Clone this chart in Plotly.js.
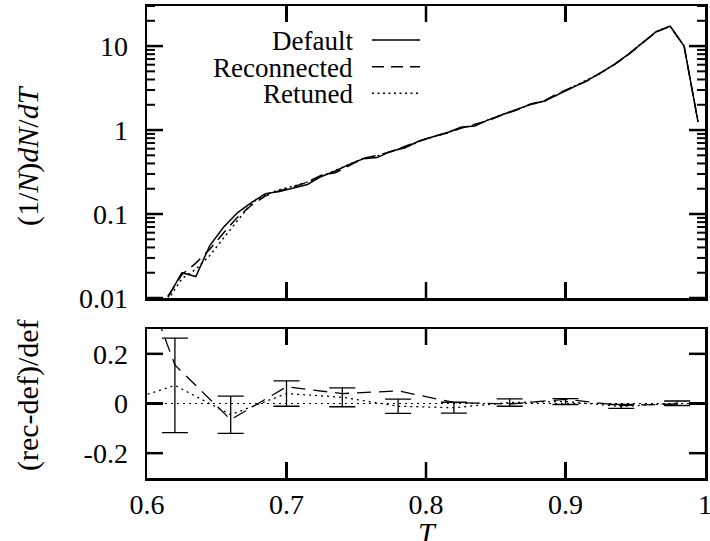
<!DOCTYPE html>
<html><head><meta charset="utf-8">
<script src="https://cdn.plot.ly/plotly-3.0.1.min.js"></script>
<style>html,body{margin:0;padding:0;background:#fff}#chart{width:710px;height:541px}</style>
</head><body><div id="chart"></div>
<script>
// ---- data ----
const T_top = [0.615,0.625,0.635,0.645,0.655,0.665,0.675,0.685,0.695,0.705,
               0.715,0.725,0.735,0.745,0.755,0.765,0.775,0.785,0.795,0.805,
               0.815,0.825,0.835,0.845,0.855,0.865,0.875,0.885,0.895,0.905,
               0.915,0.925,0.935,0.945,0.955,0.965,0.975,0.985,0.995];
const defaultVals = [0.0102,0.020,0.018,0.042,0.070,0.104,0.138,0.175,0.186,0.205,
                     0.225,0.280,0.325,0.39,0.455,0.47,0.56,0.615,0.74,0.83,
                     0.93,1.08,1.12,1.33,1.53,1.76,2.02,2.22,2.65,3.2,
                     3.85,4.75,6.05,7.95,10.9,14.8,17.3,10.0,1.25];
const reconnectedVals = [0.0105,0.019,0.026,0.038,0.060,0.092,0.128,0.165,0.19,0.21,
                         0.24,0.29,0.31,0.38,0.46,0.50,0.55,0.64,0.73,0.84,
                         0.92,1.05,1.17,1.30,1.52,1.73,2.05,2.24,2.75,3.2,
                         3.8,4.8,6.0,7.9,10.9,14.7,17.2,10.0,1.25];
const retunedVals = [0.0095,0.017,0.022,0.032,0.052,0.085,0.135,0.17,0.195,0.215,
                     0.24,0.28,0.33,0.39,0.46,0.49,0.56,0.62,0.73,0.83,
                     0.92,1.07,1.14,1.33,1.53,1.76,2.02,2.22,2.68,3.2,
                     3.85,4.75,6.05,7.95,10.9,14.8,17.3,10.0,1.25];

const T_ratio = [0.58,0.62,0.66,0.70,0.74,0.78,0.82,0.86,0.90,0.94,0.98];
const reconnectedRatio = [0.76,0.155,-0.065,0.067,0.040,0.051,0.004,-0.002,0.017,-0.008,-0.002];
const retunedRatio = [0.0,0.073,-0.045,0.040,0.025,-0.011,-0.017,0.004,0.008,-0.012,0.001];
const ratioErr = [0.3,0.19,0.075,0.051,0.038,0.029,0.022,0.015,0.012,0.008,0.009];

const seriesNames = ['Default','Reconnected','Retuned'];
const xTickVals = [0.6,0.7,0.8,0.9,1.0];
const xTickText = ['0.6','0.7','0.8','0.9','1'];
const yTopTickVals = [0.01,0.1,1,10];
const yTopTickText = ['0.01','0.1','1','10'];
const yBotTickVals = [-0.2,0,0.2];
const yBotTickText = ['-0.2','0','0.2'];
const yTopTitle = '(1/<i>N</i>)<i>dN</i>/<i>dT</i>';
const yBotTitle = '(rec-def)/def';
const xTitle = '<i>T</i>';

// minor log tick positions (2..9 in every decade, up to 30)
const yTopMinor = [];
for (let e = -2; e <= 1; e++) for (let m = 2; m <= 9; m++) { const v = m * Math.pow(10, e); if (v <= 30) yTopMinor.push(v); }

// ---- styling ----
const W = 710, H = 541;
const M = {l:147, r:5, t:6, b:63};
const PW = W - M.l - M.r, PH = H - M.t - M.b;
const px = x => (x - M.l) / PW;
const py = y => (H - M.b - y) / PH;
const FONT = 'Liberation Serif';
const dashes = ['solid', '12px,7px', '2px,3.5px'];
const LW = 1.5;
const XR = [0.6, 1.0];
const YR = [-2, Math.log10(30)];
const YR2 = [-0.3, 0.3];
const TOPH = 292, BOTH = 149;          // panel heights in px
const TXT = 27, TITLE = 30, TICKF = 28;
const MAJ = 16, MIN = 8;

// tick-mark segments expressed in axis units (length given in px, converted through each axis span)
const dxPer = (XR[1] - XR[0]) / PW;
const dLogPer = (YR[1] - YR[0]) / TOPH;
const dLinPer = (YR2[1] - YR2[0]) / BOTH;
const topTicks = {x:[], y:[]}, topMinor = {x:[], y:[]}, botTicks = {x:[], y:[]};
const add = (o, xa, ya, xb, yb) => { o.x.push(xa, xb, null); o.y.push(ya, yb, null); };
xTickVals.slice(1, -1).forEach(v => {
  add(topTicks, v, Math.pow(10, YR[0]), v, Math.pow(10, YR[0] + MAJ * dLogPer));
  add(topTicks, v, Math.pow(10, YR[1]), v, Math.pow(10, YR[1] - MAJ * dLogPer));
  add(botTicks, v, YR2[0], v, YR2[0] + MAJ * dLinPer);
  add(botTicks, v, YR2[1], v, YR2[1] - MAJ * dLinPer);
});
yTopTickVals.forEach(v => {
  add(topTicks, XR[0], v, XR[0] + MAJ * dxPer, v);
  add(topTicks, XR[1], v, XR[1] - MAJ * dxPer, v);
});
yTopMinor.forEach(v => {
  add(topMinor, XR[0], v, XR[0] + MIN * dxPer, v);
  add(topMinor, XR[1], v, XR[1] - MIN * dxPer, v);
});
yBotTickVals.forEach(v => {
  add(botTicks, XR[0], v, XR[0] + MAJ * dxPer, v);
  add(botTicks, XR[1], v, XR[1] - MAJ * dxPer, v);
});

const traces = [
  {x:T_top, y:defaultVals, xaxis:'x', yaxis:'y', mode:'lines', line:{color:'#000', width:LW, dash:dashes[0]}, name:seriesNames[0]},
  {x:T_top, y:reconnectedVals, xaxis:'x', yaxis:'y', mode:'lines', line:{color:'#000', width:LW, dash:dashes[1]}, name:seriesNames[1]},
  {x:T_top, y:retunedVals, xaxis:'x', yaxis:'y', mode:'lines', line:{color:'#000', width:LW, dash:dashes[2]}, name:seriesNames[2]},
  {x:T_ratio, y:reconnectedRatio, xaxis:'x2', yaxis:'y2', mode:'lines', line:{color:'#000', width:1.3, dash:'14px,8px'}, name:seriesNames[1]},
  {x:T_ratio, y:retunedRatio, xaxis:'x2', yaxis:'y2', mode:'lines', line:{color:'#000', width:1.3, dash:'2px,4px'}, name:seriesNames[2],
   error_y:{type:'data', array:ratioErr, visible:true, color:'#000', thickness:1.3, width:13}},
  {x:topTicks.x, y:topTicks.y, xaxis:'x', yaxis:'y', mode:'lines', connectgaps:false, line:{color:'#000', width:2.5}, hoverinfo:'skip'},
  {x:topMinor.x, y:topMinor.y, xaxis:'x', yaxis:'y', mode:'lines', connectgaps:false, line:{color:'#000', width:2}, hoverinfo:'skip'},
  {x:botTicks.x, y:botTicks.y, xaxis:'x2', yaxis:'y2', mode:'lines', connectgaps:false, line:{color:'#000', width:2.5}, hoverinfo:'skip'}
];

const axBase = {
  showline:true, linecolor:'#000', linewidth:2.5, mirror:'allticks',
  ticks:'inside', ticklen:MAJ, tickwidth:2.5, tickcolor:'#000',
  showgrid:false, zeroline:false, ticklabeloverflow:'allow',
  tickfont:{family:FONT, size:TICKF, color:'#000'}
};

const shapes = [
  {type:'line', xref:'x2 domain', yref:'y2', x0:0, x1:1, y0:0, y1:0, line:{color:'#000', width:1, dash:'2px,4px'}}
];
const legY = [40, 66.7, 93.3];
legY.forEach((y, i) => shapes.push({type:'line', xref:'paper', yref:'paper', x0:px(372), x1:px(420), y0:py(y), y1:py(y), line:{color:'#000', width:LW, dash:dashes[i]}}));

const legTextY = [41, 67.5, 94];
const annotations = seriesNames.map((n, i) => ({text:n, xref:'paper', yref:'paper', x:px(355), y:py(legTextY[i]),
  xanchor:'right', yanchor:'middle', showarrow:false, font:{family:FONT, size:TXT, color:'#000'}}));
annotations.push(
  {text:yTopTitle, xref:'paper', yref:'paper', x:px(28), y:py(156), xanchor:'center', yanchor:'middle', textangle:-90, showarrow:false, font:{family:FONT, size:TITLE, color:'#000'}},
  {text:yBotTitle, xref:'paper', yref:'paper', x:px(28), y:py(395), xanchor:'center', yanchor:'middle', textangle:-90, showarrow:false, font:{family:FONT, size:TITLE, color:'#000'}},
  {text:xTitle, xref:'paper', yref:'paper', x:px(427), y:py(532), xanchor:'center', yanchor:'middle', showarrow:false, font:{family:FONT, size:TITLE, color:'#000'}}
);

const layout = {
  width:W, height:H, margin:M, showlegend:false,
  paper_bgcolor:'#fff', plot_bgcolor:'#fff',
  font:{family:FONT, color:'#000'},
  xaxis: Object.assign({}, axBase, {anchor:'y', range:XR, tickmode:'array', tickvals:xTickVals, showticklabels:false}),
  yaxis: Object.assign({}, axBase, {anchor:'x', domain:[py(298),1], type:'log', range:YR,
          tickmode:'array', tickvals:yTopTickVals, ticktext:yTopTickText, ticklabelstandoff:11}),
  xaxis2: Object.assign({}, axBase, {anchor:'y2', range:XR, tickmode:'array', tickvals:xTickVals, ticktext:xTickText, ticklabelstandoff:0}),
  yaxis2: Object.assign({}, axBase, {anchor:'x2', domain:[0,py(329)], range:YR2,
          tickmode:'array', tickvals:yBotTickVals, ticktext:yBotTickText, ticklabelstandoff:11}),
  shapes: shapes,
  annotations: annotations
};

Plotly.newPlot('chart', traces, layout, {staticPlot:true, displayModeBar:false});
</script>
</body></html>
